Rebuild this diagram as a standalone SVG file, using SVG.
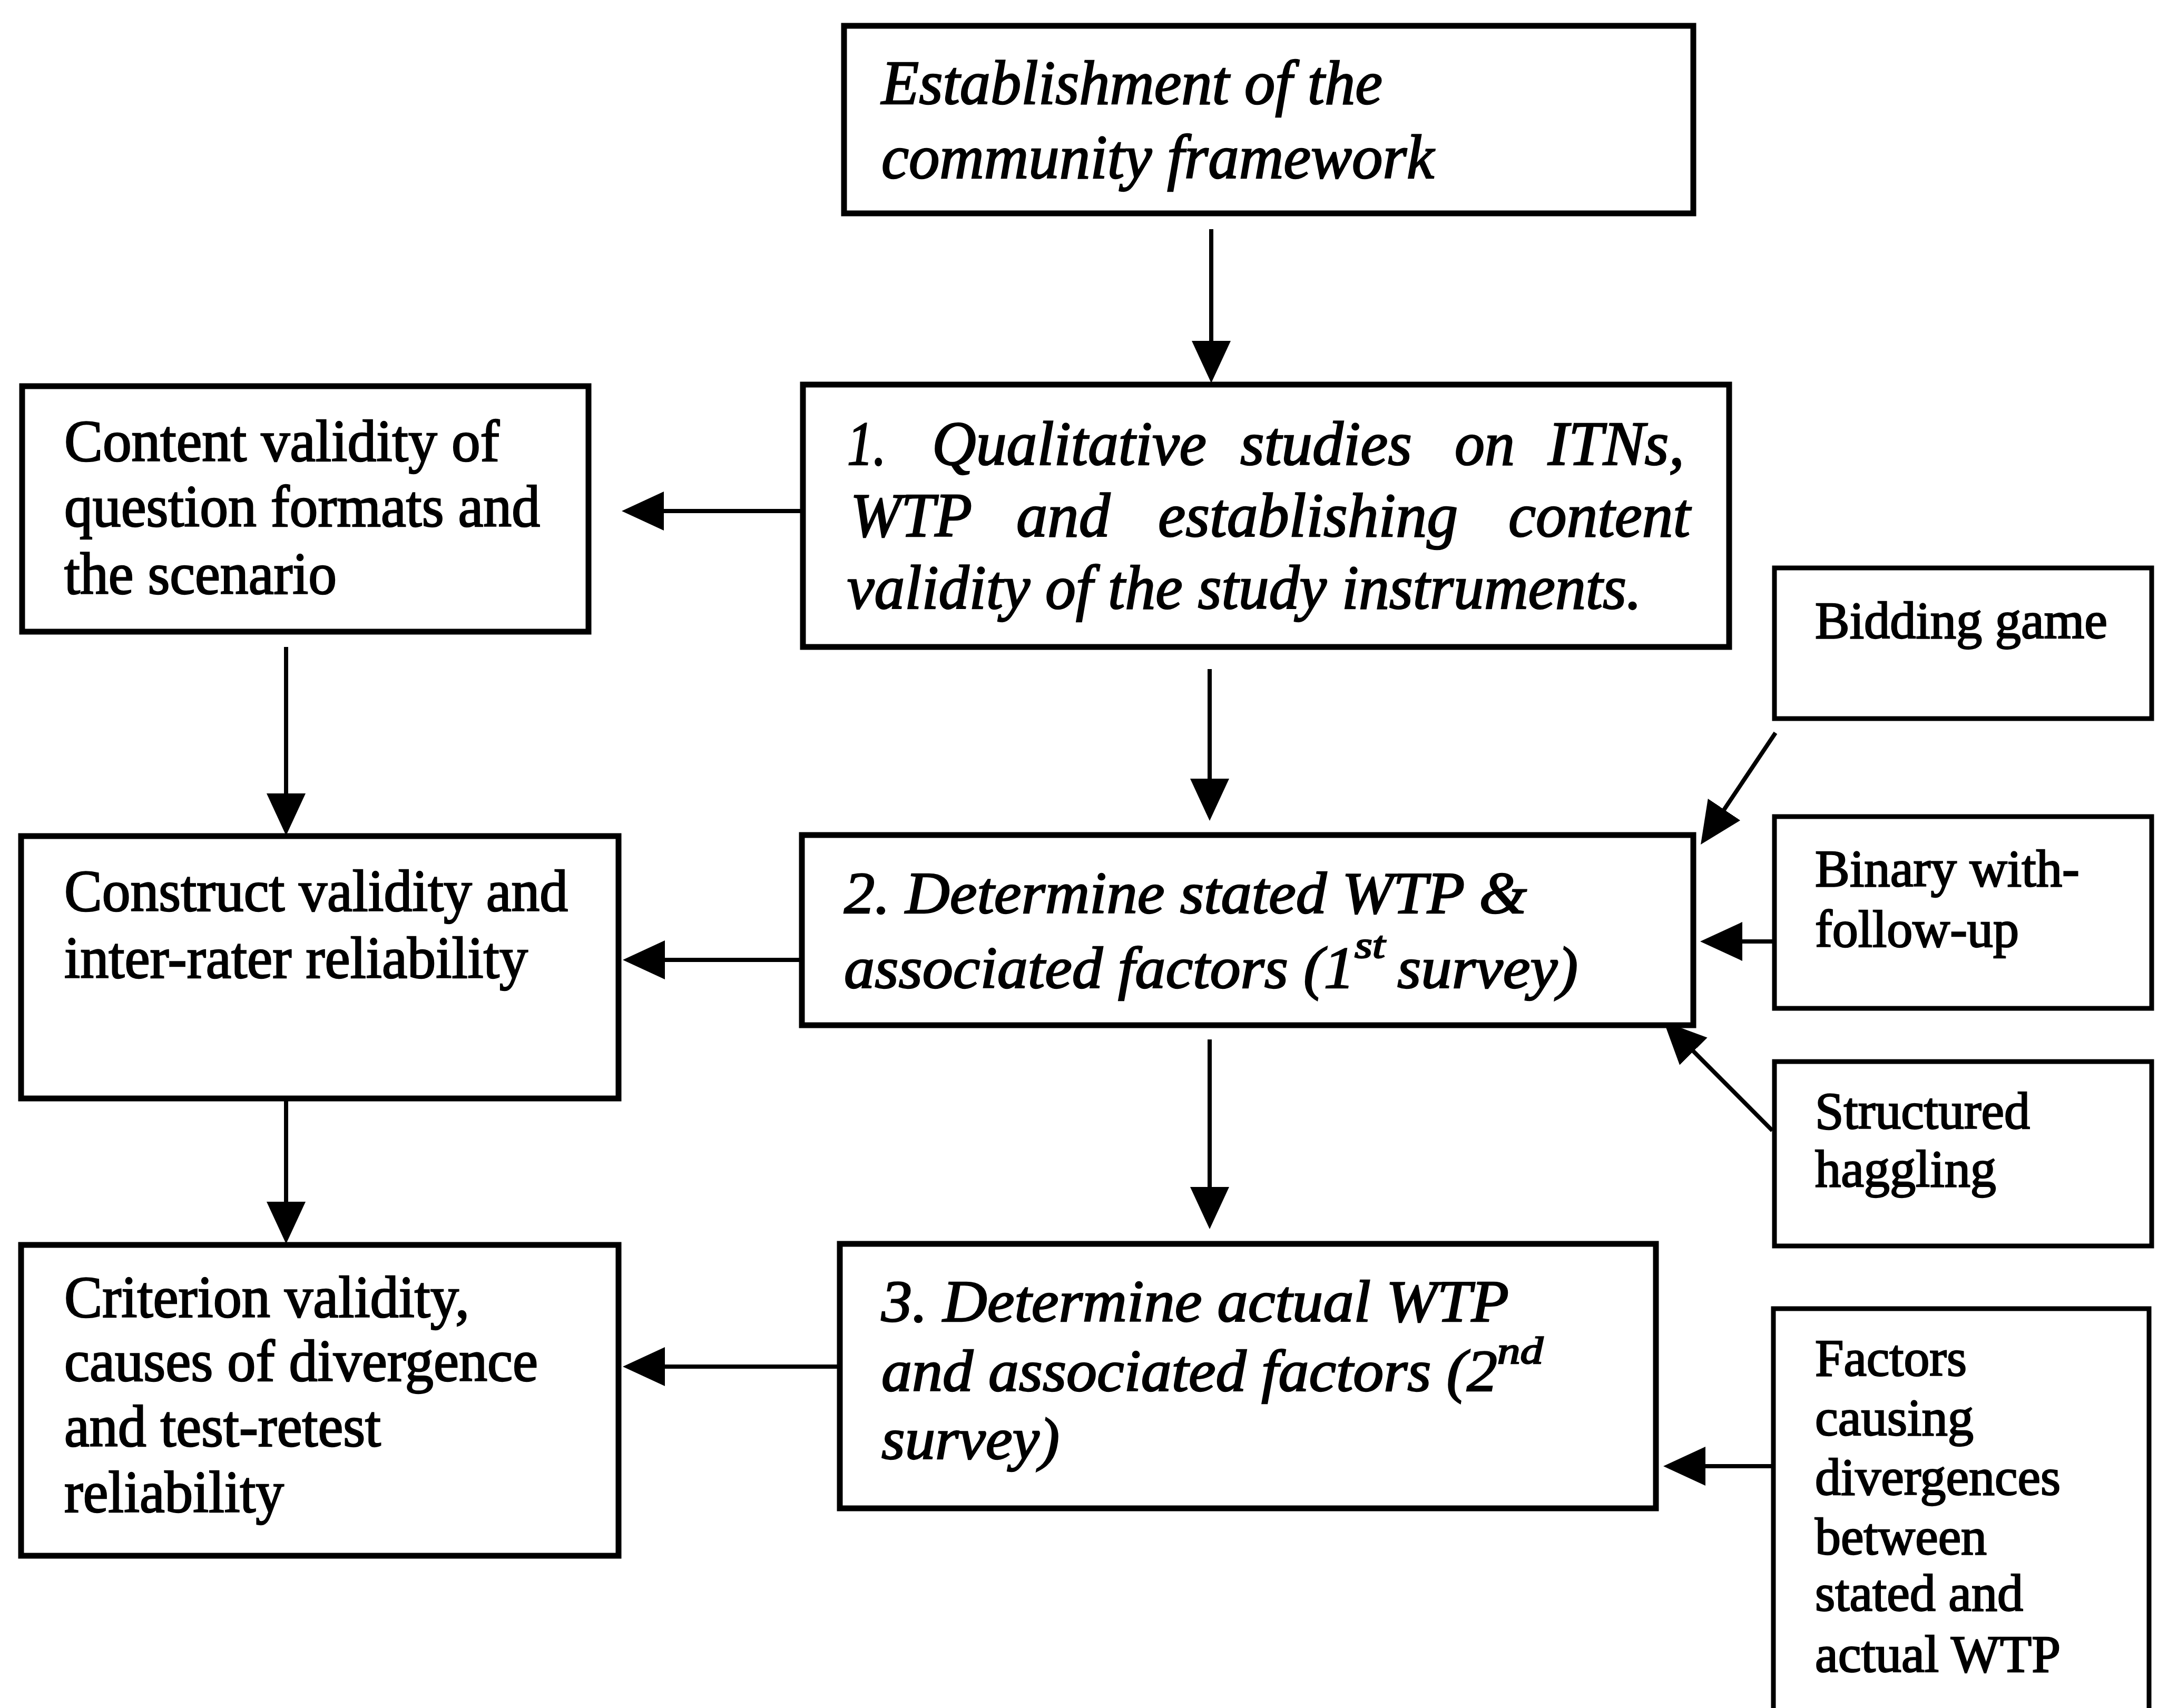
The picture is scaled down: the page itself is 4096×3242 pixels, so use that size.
<svg xmlns="http://www.w3.org/2000/svg" width="4096" height="3242" viewBox="0 0 4096 3242">
<style>
.box{fill:#fff;stroke:#000;stroke-width:11}
.sbox{fill:#fff;stroke:#000;stroke-width:9}
.con{fill:none;stroke:#000;stroke-width:8;marker-end:url(#ah)}
.it{font-family:"Liberation Serif","Times New Roman",serif;font-style:italic;fill:#000;stroke:#000;stroke-width:2.5}
.rm{font-family:"Liberation Serif","Times New Roman",serif;fill:#000;stroke:#000;stroke-width:2.5}
.big{font-size:118px}
.mid{font-size:112px}
.sm{font-size:100px}
.sup{font-size:72px}
</style>
<defs>
<marker id="ah" viewBox="0 0 80 74" refX="70" refY="37" markerWidth="80" markerHeight="74" markerUnits="userSpaceOnUse" orient="auto">
<path d="M0,0 L80,37 L0,74 Z" fill="#000"/>
</marker>
</defs>
<rect width="4096" height="3242" fill="#fff"/>

<g id="connectors">
<line class="con" x1="2299" y1="435" x2="2299" y2="717"/>
<line class="con" x1="2296" y1="1270" x2="2296" y2="1548"/>
<line class="con" x1="2296" y1="1973" x2="2296" y2="2323"/>
<line class="con" x1="543" y1="1228" x2="543" y2="1576"/>
<line class="con" x1="543" y1="2085" x2="543" y2="2351"/>
<line class="con" x1="1524" y1="970" x2="1190" y2="970"/>
<line class="con" x1="1522" y1="1822" x2="1192" y2="1822"/>
<line class="con" x1="1594" y1="2594" x2="1192" y2="2594"/>
<line class="con" x1="3368" y1="1787" x2="3237" y2="1787"/>
<line class="con" x1="3366" y1="2783" x2="3167" y2="2783"/>
<line class="con" x1="3370" y1="1391" x2="3233.6" y2="1594.7"/>
<line class="con" x1="3364" y1="2146" x2="3165" y2="1946"/>
</g>

<g id="n-establishment">
<rect class="box" x="1602" y="49" width="1612" height="356"/>
<text class="it big" x="1673" y="197" textLength="951" lengthAdjust="spacingAndGlyphs">Establishment of the</text>
<text class="it big" x="1673" y="338" textLength="1049" lengthAdjust="spacingAndGlyphs">community framework</text>
</g>

<g id="n-step1">
<rect class="box" x="1524" y="730" width="1758" height="498"/>
<text class="it big" y="882">
<tspan x="1608" textLength="74" lengthAdjust="spacingAndGlyphs">1.</tspan>
<tspan x="1769" textLength="521" lengthAdjust="spacingAndGlyphs">Qualitative</tspan>
<tspan x="2354" textLength="326" lengthAdjust="spacingAndGlyphs">studies</tspan>
<tspan x="2761" textLength="114" lengthAdjust="spacingAndGlyphs">on</tspan>
<tspan x="2938" textLength="259" lengthAdjust="spacingAndGlyphs">ITNs,</tspan>
</text>
<text class="it big" y="1018">
<tspan x="1614" textLength="229" lengthAdjust="spacingAndGlyphs">WTP</tspan>
<tspan x="1929" textLength="178" lengthAdjust="spacingAndGlyphs">and</tspan>
<tspan x="2198" textLength="569" lengthAdjust="spacingAndGlyphs">establishing</tspan>
<tspan x="2863" textLength="345" lengthAdjust="spacingAndGlyphs">content</tspan>
</text>
<text class="it big" x="1608" y="1155" textLength="1508" lengthAdjust="spacingAndGlyphs">validity of the study instruments.</text>
</g>

<g id="n-step2">
<rect class="box" x="1522" y="1585" width="1692" height="361"/>
<text class="it mid" x="1602" y="1733" textLength="1296" lengthAdjust="spacingAndGlyphs">2. Determine stated WTP &amp;</text>
<text class="it mid" x="1602" y="1875" textLength="969" lengthAdjust="spacingAndGlyphs">associated factors (1</text>
<text class="it sup" x="2571" y="1818" textLength="58" lengthAdjust="spacingAndGlyphs">st</text>
<text class="it mid" x="2652" y="1875" textLength="343" lengthAdjust="spacingAndGlyphs">survey)</text>
</g>

<g id="n-step3">
<rect class="box" x="1594" y="2361" width="1549" height="502"/>
<text class="it mid" x="1673" y="2508" textLength="1191" lengthAdjust="spacingAndGlyphs">3. Determine actual WTP</text>
<text class="it mid" x="1673" y="2640" textLength="1169" lengthAdjust="spacingAndGlyphs">and associated factors (2</text>
<text class="it sup" x="2842" y="2588" textLength="87" lengthAdjust="spacingAndGlyphs">nd</text>
<text class="it mid" x="1673" y="2769" textLength="338" lengthAdjust="spacingAndGlyphs">survey)</text>
</g>

<g id="n-content-validity">
<rect class="box" x="42" y="733" width="1075" height="466"/>
<text class="rm mid" x="122" y="875" textLength="826" lengthAdjust="spacingAndGlyphs">Content validity of</text>
<text class="rm mid" x="122" y="999" textLength="903" lengthAdjust="spacingAndGlyphs">question formats and</text>
<text class="rm mid" x="122" y="1127" textLength="517" lengthAdjust="spacingAndGlyphs">the scenario</text>
</g>

<g id="n-construct-validity">
<rect class="box" x="40" y="1587" width="1134" height="498"/>
<text class="rm mid" x="122" y="1729" textLength="956" lengthAdjust="spacingAndGlyphs">Construct validity and</text>
<text class="rm mid" x="122" y="1856" textLength="880" lengthAdjust="spacingAndGlyphs">inter-rater reliability</text>
</g>

<g id="n-criterion-validity">
<rect class="box" x="40" y="2363" width="1134" height="590"/>
<text class="rm mid" x="122" y="2500" textLength="769" lengthAdjust="spacingAndGlyphs">Criterion validity,</text>
<text class="rm mid" x="122" y="2621" textLength="899" lengthAdjust="spacingAndGlyphs">causes of divergence</text>
<text class="rm mid" x="122" y="2745" textLength="601" lengthAdjust="spacingAndGlyphs">and test-retest</text>
<text class="rm mid" x="122" y="2870" textLength="417" lengthAdjust="spacingAndGlyphs">reliability</text>
</g>

<g id="n-bidding-game">
<rect class="sbox" x="3368" y="1078" width="716" height="286"/>
<text class="rm sm" x="3445" y="1211" textLength="555" lengthAdjust="spacingAndGlyphs">Bidding game</text>
</g>

<g id="n-binary">
<rect class="sbox" x="3368" y="1550" width="716" height="364"/>
<text class="rm sm" x="3445" y="1682" textLength="502" lengthAdjust="spacingAndGlyphs">Binary with-</text>
<text class="rm sm" x="3445" y="1797" textLength="387" lengthAdjust="spacingAndGlyphs">follow-up</text>
</g>

<g id="n-structured-haggling">
<rect class="sbox" x="3368" y="2015" width="716" height="350"/>
<text class="rm sm" x="3445" y="2142" textLength="408" lengthAdjust="spacingAndGlyphs">Structured</text>
<text class="rm sm" x="3445" y="2252" textLength="344" lengthAdjust="spacingAndGlyphs">haggling</text>
</g>

<g id="n-factors">
<path class="sbox" d="M3366,3260 V2484 H4079 V3260"/>
<text class="rm sm" x="3445" y="2611" textLength="288" lengthAdjust="spacingAndGlyphs">Factors</text>
<text class="rm sm" x="3445" y="2724" textLength="301" lengthAdjust="spacingAndGlyphs">causing</text>
<text class="rm sm" x="3445" y="2837" textLength="466" lengthAdjust="spacingAndGlyphs">divergences</text>
<text class="rm sm" x="3445" y="2950" textLength="326" lengthAdjust="spacingAndGlyphs">between</text>
<text class="rm sm" x="3445" y="3057" textLength="395" lengthAdjust="spacingAndGlyphs">stated and</text>
<text class="rm sm" x="3445" y="3173" textLength="466" lengthAdjust="spacingAndGlyphs">actual WTP</text>
</g>
</svg>
